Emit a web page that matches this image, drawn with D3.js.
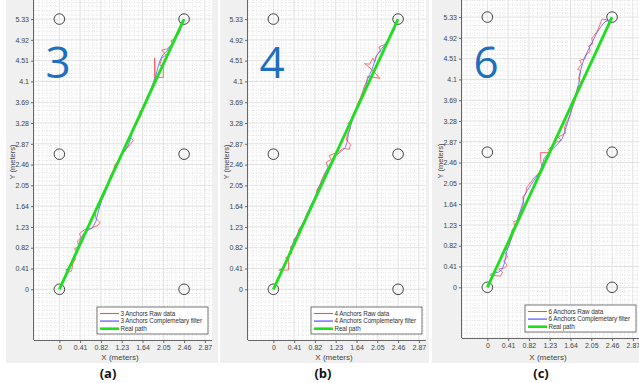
<!DOCTYPE html>
<html>
<head>
<meta charset="utf-8">
<script src="https://cdn.jsdelivr.net/npm/d3@7"></script>
<style>
  html, body { margin: 0; padding: 0; background: #fff; }
  svg { display: block; font-family: "Liberation Sans", Arial, sans-serif; }
</style>
</head>
<body>
<div id="chart"></div>
<script>
// tick values (meters)
const xTicks = [0, 0.41, 0.82, 1.23, 1.64, 2.05, 2.46, 2.87];
const yTicks = [0, 0.41, 0.82, 1.23, 1.64, 2.05, 2.46, 2.87, 3.28, 3.69, 4.1, 4.51, 4.92, 5.33];

// anchor positions and the real path
const anchors = [[0, 0], [2.46, 0], [0, 2.665], [2.46, 2.665], [0, 5.33], [2.46, 5.33]];
const realPath = [[0, 0], [2.46, 5.33]];

const anchorCounts = ["3", "4", "6"];
const panelLabels = ["(a)", "(b)", "(c)"];

// 3 anchors
const rawA = [[0.12,0.38],[0.20,0.42],[0.16,0.33],[0.24,0.36],[0.27,0.52],[0.32,0.60],[0.28,0.66],[0.36,0.72],
  [0.30,0.80],[0.38,0.84],[0.36,0.95],[0.42,1.02],[0.40,1.10],[0.50,1.18],[0.62,1.20],[0.76,1.26],[0.80,1.32],
  [0.72,1.40],[0.70,1.52],[0.78,1.62],[0.82,1.74],[0.86,1.86],[0.92,1.98],[0.96,2.10],[1.00,2.22],[1.06,2.34],
  [1.10,2.46],[1.18,2.56],[1.22,2.66],[1.30,2.74],[1.40,2.86],[1.46,2.94],[1.40,3.00],[1.44,3.12],[1.50,3.22],
  [1.56,3.34],[1.62,3.44],[1.58,3.50],[1.66,3.58],[1.70,3.70],[1.74,3.82],[1.80,3.92],[1.84,4.04],[1.88,4.16],
  [1.88,4.56],[1.89,4.18],[2.05,4.18],[2.05,4.40],[1.98,4.42],[2.02,4.56],[2.10,4.62],[2.02,4.72],[2.12,4.74],
  [2.24,4.84],[2.20,4.90],[2.30,4.96],[2.36,5.06],[2.40,5.16]];
const filtA = [[0.13,0.37],[0.18,0.40],[0.24,0.48],[0.30,0.62],[0.34,0.76],[0.38,0.88],[0.42,1.00],[0.48,1.10],
  [0.56,1.16],[0.66,1.22],[0.72,1.34],[0.76,1.50],[0.80,1.64],[0.84,1.76],[0.90,1.90],[0.96,2.04],[1.00,2.18],
  [1.06,2.32],[1.12,2.46],[1.20,2.60],[1.28,2.72],[1.36,2.84],[1.40,2.96],[1.44,3.10],[1.50,3.24],[1.56,3.38],
  [1.62,3.52],[1.68,3.66],[1.74,3.80],[1.80,3.94],[1.86,4.08],[1.90,4.20],[1.94,4.36],[1.98,4.50],[2.04,4.62],
  [2.12,4.70],[2.20,4.80],[2.28,4.92],[2.34,5.04],[2.40,5.14]];

// 4 anchors
const rawB = [[0.10,0.38],[0.30,0.38],[0.30,0.60],[0.24,0.62],[0.36,0.70],[0.34,0.84],[0.44,0.88],[0.40,0.98],
  [0.48,1.06],[0.50,1.18],[0.56,1.26],[0.62,1.38],[0.66,1.50],[0.72,1.60],[0.78,1.72],[0.84,1.84],[0.86,1.96],
  [0.92,2.06],[0.96,2.18],[1.02,2.30],[1.08,2.40],[1.04,2.50],[1.14,2.56],[1.10,2.64],[1.22,2.68],[1.30,2.72],
  [1.38,2.78],[1.50,2.76],[1.52,2.86],[1.44,2.94],[1.46,3.06],[1.52,3.18],[1.47,3.28],[1.54,3.30],[1.56,3.42],
  [1.62,3.54],[1.66,3.66],[1.72,3.78],[1.76,3.90],[1.80,4.02],[1.84,4.10],[1.86,4.20],[2.10,4.16],[1.96,4.32],
  [1.80,4.45],[1.90,4.44],[1.96,4.56],[2.00,4.48],[2.04,4.62],[2.12,4.70],[2.08,4.78],[2.18,4.82],[2.24,4.88],
  [2.30,4.98],[2.34,5.06],[2.39,5.15]];
const filtB = [[0.12,0.38],[0.20,0.42],[0.26,0.54],[0.30,0.66],[0.34,0.78],[0.38,0.90],[0.44,1.02],[0.50,1.14],
  [0.56,1.26],[0.62,1.38],[0.68,1.50],[0.72,1.62],[0.78,1.74],[0.84,1.86],[0.88,1.98],[0.94,2.10],[1.00,2.22],
  [1.06,2.36],[1.12,2.48],[1.18,2.58],[1.26,2.66],[1.34,2.72],[1.42,2.80],[1.46,2.92],[1.48,3.06],[1.52,3.20],
  [1.56,3.34],[1.60,3.48],[1.66,3.62],[1.72,3.76],[1.78,3.90],[1.82,4.02],[1.86,4.14],[1.90,4.24],[1.94,4.32],
  [1.98,4.44],[2.02,4.58],[2.10,4.70],[2.18,4.80],[2.26,4.92],[2.34,5.04],[2.40,5.14]];

// 6 anchors
const rawC = [[0.04,0.24],[0.26,0.22],[0.30,0.30],[0.22,0.36],[0.34,0.38],[0.39,0.44],[0.32,0.52],[0.40,0.60],
  [0.34,0.70],[0.42,0.80],[0.46,0.92],[0.50,1.02],[0.48,1.12],[0.54,1.20],[0.52,1.30],[0.60,1.32],[0.62,1.42],
  [0.68,1.54],[0.72,1.66],[0.70,1.78],[0.76,1.86],[0.78,1.98],[0.86,2.08],[0.92,2.16],[1.00,2.24],[1.08,2.33],
  [1.05,2.52],[1.05,2.66],[1.25,2.66],[1.20,2.72],[1.30,2.80],[1.36,2.86],[1.46,2.90],[1.40,2.96],[1.54,3.04],
  [1.52,3.14],[1.56,3.26],[1.62,3.36],[1.66,3.48],[1.70,3.60],[1.74,3.72],[1.76,3.84],[1.78,3.96],[1.86,4.00],
  [1.80,4.12],[1.84,4.27],[1.78,4.30],[1.86,4.40],[1.82,4.48],[1.92,4.50],[1.96,4.60],[2.03,4.66],[2.00,4.76],
  [2.08,4.80],[2.06,4.92],[2.12,4.98],[2.18,5.08],[2.22,5.18],[2.26,5.29],[2.34,5.28],[2.42,5.22]];
const filtC = [[0.06,0.26],[0.14,0.28],[0.22,0.30],[0.29,0.35],[0.33,0.46],[0.36,0.58],[0.38,0.70],[0.42,0.82],
  [0.46,0.94],[0.50,1.06],[0.54,1.18],[0.58,1.30],[0.62,1.42],[0.66,1.54],[0.70,1.66],[0.72,1.78],[0.78,1.90],
  [0.86,2.02],[0.94,2.14],[1.02,2.26],[1.08,2.40],[1.12,2.54],[1.20,2.64],[1.30,2.74],[1.40,2.84],[1.48,2.94],
  [1.52,3.06],[1.56,3.18],[1.60,3.30],[1.64,3.44],[1.68,3.58],[1.72,3.72],[1.76,3.86],[1.80,4.00],[1.82,4.14],
  [1.84,4.28],[1.88,4.42],[1.92,4.54],[1.98,4.66],[2.04,4.78],[2.10,4.90],[2.16,5.02],[2.24,5.14],[2.32,5.24],
  [2.42,5.28]];

const rawSeries = [rawA, rawB, rawC];
const filtSeries = [filtA, filtB, filtC];

const width = 639, height = 383;

// panel frames (pixels)
const panels = [
  { gx: 6, gw: 212, left: 34, right: 212, bottom: 340, labelX: 108 },
  { gx: 220, gw: 209, left: 248, right: 426, bottom: 340, labelX: 323 },
  { gx: 432, gw: 207, left: 462, right: 640, bottom: 338, labelX: 541 }
];

const svg = d3.select("#chart")
  .append("svg")
  .attr("width", width)
  .attr("height", height);

const pxPerMeter = 50.7;
const minorStep = 0.41 / 5;

panels.forEach((p, i) => {
  const n = anchorCounts[i];

  svg.append("rect")
    .attr("x", p.gx).attr("y", 0)
    .attr("width", p.gw).attr("height", 363)
    .attr("fill", "#f0f0f0");

  const x = d3.scaleLinear().domain([-0.5, 3.0]).range([p.left, p.left + 3.5 * pxPerMeter]);
  const y = d3.scaleLinear().domain([-1, 5.8]).range([p.bottom, p.bottom - 6.8 * pxPerMeter]);

  const clipId = "clip" + i;
  svg.append("clipPath").attr("id", clipId)
    .append("rect")
    .attr("x", p.left).attr("y", 0)
    .attr("width", Math.min(p.right, width) - p.left).attr("height", p.bottom);

  const g = svg.append("g").attr("clip-path", `url(#${clipId})`);

  g.append("rect")
    .attr("x", p.left).attr("y", 0)
    .attr("width", p.right - p.left).attr("height", p.bottom)
    .attr("fill", "#fff");

  // minor grid
  const xMinor = d3.range(-6, 37).map(k => k * minorStep).filter(v => xTicks.indexOf(+v.toFixed(2)) < 0);
  const yMinor = d3.range(-12, 72).map(k => k * minorStep).filter(v => yTicks.indexOf(+v.toFixed(2)) < 0);
  g.selectAll(".xminor").data(xMinor).join("line")
    .attr("x1", d => x(d)).attr("x2", d => x(d))
    .attr("y1", 0).attr("y2", p.bottom)
    .attr("stroke", "#d4d4d4").attr("stroke-width", 0.6)
    .attr("stroke-dasharray", "1,1.5");
  g.selectAll(".yminor").data(yMinor).join("line")
    .attr("x1", p.left).attr("x2", p.right)
    .attr("y1", d => y(d)).attr("y2", d => y(d))
    .attr("stroke", "#d4d4d4").attr("stroke-width", 0.6)
    .attr("stroke-dasharray", "1,1.5");

  // major grid
  g.selectAll(".xmajor").data(xTicks).join("line")
    .attr("x1", d => x(d)).attr("x2", d => x(d))
    .attr("y1", 0).attr("y2", p.bottom)
    .attr("stroke", "#e2e2e2").attr("stroke-width", 1);
  g.selectAll(".ymajor").data(yTicks).join("line")
    .attr("x1", p.left).attr("x2", p.right)
    .attr("y1", d => y(d)).attr("y2", d => y(d))
    .attr("stroke", "#e2e2e2").attr("stroke-width", 1);

  // anchors
  g.selectAll(".anchor").data(anchors).join("circle")
    .attr("cx", d => x(d[0])).attr("cy", d => y(d[1]))
    .attr("r", 5.3)
    .attr("fill", "none").attr("stroke", "#444").attr("stroke-width", 1);

  const line = d3.line().x(d => x(d[0])).y(d => y(d[1]));

  g.append("path").datum(rawSeries[i])
    .attr("d", line).attr("fill", "none")
    .attr("stroke", "#ff4a4a").attr("stroke-width", 0.8);
  g.append("path").datum(filtSeries[i])
    .attr("d", line).attr("fill", "none")
    .attr("stroke", "#6a6aff").attr("stroke-width", 0.9);
  g.append("path").datum(realPath)
    .attr("d", line).attr("fill", "none")
    .attr("stroke", "#1de01d").attr("stroke-width", 2.8);

  // big anchor count
  svg.append("text")
    .attr("x", p.left + 24).attr("y", 78)
    .attr("text-anchor", "middle")
    .style("font-family", "'Open Sans', sans-serif")
    .style("font-weight", 400)
    .style("font-size", "44px")
    .attr("fill", "#1f6fbf")
    .text(n);

  // axes
  const xAxis = svg.append("g")
    .attr("transform", `translate(0,${p.bottom})`)
    .call(d3.axisBottom(x).tickValues(xTicks).tickSize(3).tickPadding(2)
      .tickFormat(d => String(d)));
  xAxis.select(".domain").attr("d", `M${p.left},0.5H${Math.min(p.right, width)}`);
  const yAxis = svg.append("g")
    .attr("transform", `translate(${p.left},0)`)
    .call(d3.axisLeft(y).tickValues(yTicks).tickSize(3).tickPadding(2)
      .tickFormat(d => String(d)));
  yAxis.select(".domain").attr("d", `M-0.5,0V${p.bottom}`);

  [xAxis, yAxis].forEach(a => {
    a.selectAll(".domain").attr("stroke", "#666");
    a.selectAll(".tick line").attr("stroke", "#666");
    a.selectAll(".tick text")
      .attr("fill", "#444")
      .style("font-size", "7px")
      .style("font-family", "'Liberation Sans', Arial, sans-serif");
  });

  svg.append("text")
    .attr("x", (p.left + p.right) / 2 - 3).attr("y", 360)
    .attr("text-anchor", "middle")
    .attr("fill", "#444")
    .style("font-size", "8px")
    .text("X (meters)");
  svg.append("text")
    .attr("transform", `translate(${p.left - 19},${p.bottom / 2 - 8}) rotate(-90)`)
    .attr("text-anchor", "middle")
    .attr("fill", "#444")
    .style("font-size", "7.5px")
    .text("Y (meters)");

  // legend
  const lx = Math.min(p.right, 641) - 115, ly = p.bottom - 33;
  const legend = svg.append("g").attr("transform", `translate(${lx},${ly})`);
  legend.append("rect")
    .attr("x", 0).attr("y", 0).attr("width", 111).attr("height", 27)
    .attr("fill", "#fff").attr("stroke", "#555").attr("stroke-width", 0.8);
  const items = [
    { label: n + " Anchors Raw data", color: "#ff4a4a", w: 1.1 },
    { label: n + " Anchors Complemetary filter", color: "#6a6aff", w: 1.4 },
    { label: "Real path", color: "#1de01d", w: 2.6 }
  ];
  items.forEach((it, k) => {
    const yy = 6.5 + k * 7.6;
    legend.append("line")
      .attr("x1", 3).attr("x2", 22).attr("y1", yy).attr("y2", yy)
      .attr("stroke", it.color).attr("stroke-width", it.w);
    legend.append("text")
      .attr("x", 23.5).attr("y", yy + 2.3)
      .attr("fill", "#333")
      .style("font-size", "6.3px")
      .style("letter-spacing", "-0.1px")
      .text(it.label);
  });

  // panel label
  svg.append("text")
    .attr("x", p.labelX).attr("y", 378)
    .attr("text-anchor", "middle")
    .style("font-family", "'Open Sans', sans-serif")
    .style("font-weight", 700)
    .style("font-size", "13px")
    .attr("fill", "#111")
    .text(panelLabels[i]);
});
</script>
</body>
</html>
